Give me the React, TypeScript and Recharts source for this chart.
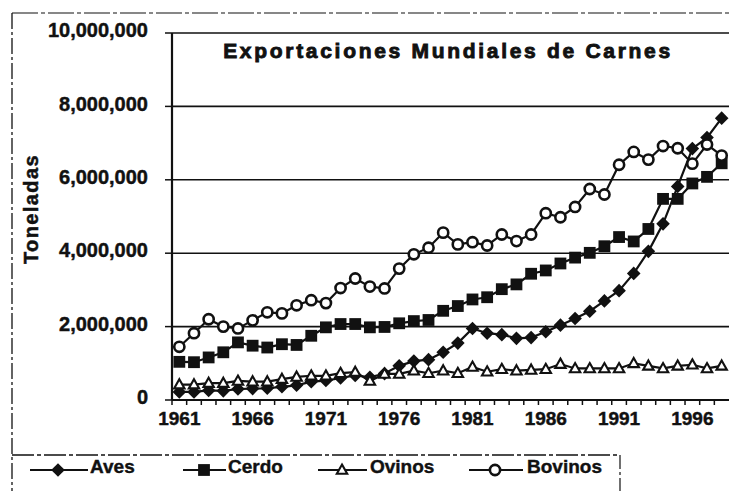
import React from 'react';
import { LineChart, Line, XAxis, YAxis, CartesianGrid, Legend } from 'recharts';

const FONT = '"Liberation Sans", Arial, Helvetica, sans-serif';
const INK = '#111';

const years = [
  1961, 1962, 1963, 1964, 1965, 1966, 1967, 1968, 1969, 1970,
  1971, 1972, 1973, 1974, 1975, 1976, 1977, 1978, 1979, 1980,
  1981, 1982, 1983, 1984, 1985, 1986, 1987, 1988, 1989, 1990,
  1991, 1992, 1993, 1994, 1995, 1996, 1997, 1998,
];

const aves = [
  220000, 220000, 260000, 250000, 300000, 310000, 320000, 360000, 400000, 500000,
  530000, 600000, 670000, 620000, 720000, 930000, 1060000, 1100000, 1300000, 1550000,
  1950000, 1820000, 1780000, 1680000, 1700000, 1860000, 2040000, 2220000, 2420000, 2700000,
  2980000, 3450000, 4050000, 4800000, 5820000, 6850000, 7150000, 7680000,
];

const cerdo = [
  1040000, 1030000, 1160000, 1300000, 1570000, 1480000, 1430000, 1520000, 1500000, 1750000,
  1980000, 2070000, 2070000, 1980000, 1990000, 2090000, 2150000, 2180000, 2430000, 2560000,
  2740000, 2800000, 3020000, 3150000, 3440000, 3530000, 3720000, 3880000, 4010000, 4190000,
  4440000, 4320000, 4660000, 5480000, 5480000, 5900000, 6080000, 6450000,
];

const ovinos = [
  420000, 420000, 460000, 460000, 520000, 500000, 500000, 570000, 630000, 660000,
  660000, 730000, 760000, 520000, 710000, 710000, 800000, 730000, 800000, 730000,
  900000, 770000, 840000, 800000, 820000, 840000, 980000, 860000, 860000, 860000,
  860000, 1000000, 930000, 860000, 930000, 960000, 860000, 930000,
];

const bovinos = [
  1450000, 1820000, 2200000, 2000000, 1950000, 2170000, 2390000, 2360000, 2580000, 2720000,
  2640000, 3050000, 3310000, 3090000, 3040000, 3580000, 3970000, 4150000, 4560000, 4240000,
  4300000, 4210000, 4510000, 4330000, 4510000, 5090000, 4980000, 5260000, 5750000, 5600000,
  6410000, 6760000, 6550000, 6920000, 6860000, 6440000, 6960000, 6660000,
];

const seriesNames = ['Aves', 'Cerdo', 'Ovinos', 'Bovinos'];
const yTicks = [0, 2000000, 4000000, 6000000, 8000000, 10000000];
const labeledYears = [1961, 1966, 1971, 1976, 1981, 1986, 1991, 1996];
const title = 'Exportaciones Mundiales de Carnes';
const yTitle = 'Toneladas';

const data = years.map((y, i) => ({
  year: y,
  Aves: aves[i],
  Cerdo: cerdo[i],
  Ovinos: ovinos[i],
  Bovinos: bovinos[i],
}));

const W = 729;
const H = 491;
const PLOT_LEFT = 172;
const PLOT_TOP = 33;
const PLOT_BOTTOM = 400;
const BAND = (W - PLOT_LEFT) / years.length;

function marker(kind: string, cx: number, cy: number, key?: any) {
  if (cx == null || cy == null || isNaN(cx) || isNaN(cy)) return <g key={key} />;
  if (kind === 'Aves') {
    const s = 6.8;
    return <path key={key} d={`M${cx},${cy - s}L${cx + s},${cy}L${cx},${cy + s}L${cx - s},${cy}Z`} fill={INK} />;
  }
  if (kind === 'Cerdo') {
    const s = 5.9;
    return <rect key={key} x={cx - s} y={cy - s} width={2 * s} height={2 * s} fill={INK} />;
  }
  if (kind === 'Ovinos') {
    return (
      <path key={key} d={`M${cx},${cy - 5.4}L${cx + 5.2},${cy + 3.8}L${cx - 5.2},${cy + 3.8}Z`}
        fill="#fff" stroke={INK} strokeWidth={2.1} strokeLinejoin="miter" />
    );
  }
  return <circle key={key} cx={cx} cy={cy} r={5.1} fill="#fff" stroke={INK} strokeWidth={2.6} />;
}

const makeDot = (kind: string) => (props: any) => marker(kind, props.cx, props.cy, `${kind}-${props.index}`);

const XTick = (props: any) => {
  const { x, y, payload } = props;
  const yr = payload.value;
  return (
    <g>
      <line x1={x - BAND / 2} x2={x - BAND / 2} y1={y} y2={y + 5} stroke={INK} strokeWidth={1.5} />
      {labeledYears.includes(yr) && (
        <text x={x} y={y + 25} textAnchor="middle" fontFamily={FONT} fontWeight="bold" fontSize={19}
          fill={INK} stroke={INK} strokeWidth={0.45}>
          {yr}
        </text>
      )}
    </g>
  );
};

const fmt = (v: number) => v.toLocaleString('en-US');

const YTick = (props: any) => {
  const { x, y, payload } = props;
  return (
    <text x={x} y={y - 3} dy="0.36em" textAnchor="end" fontFamily={FONT} fontWeight="bold" fontSize={20}
      fill={INK} stroke={INK} strokeWidth={0.45}>
      {fmt(payload.value)}
    </text>
  );
};

const legendItems = [
  { name: 'Aves', x1: 30, x2: 88, mx: 58, tx: 90 },
  { name: 'Cerdo', x1: 183, x2: 226, mx: 204, tx: 228 },
  { name: 'Ovinos', x1: 318, x2: 367, mx: 342, tx: 370 },
  { name: 'Bovinos', x1: 469, x2: 523, mx: 495, tx: 527 },
];

const renderLegend = () => (
  <svg width={W} height={51} style={{ display: 'block' }}>
    <line x1={12} x2={620} y1={15} y2={15} stroke={INK} strokeWidth={1.3} strokeDasharray="22 3 4 3" />
    <line x1={620} x2={620} y1={15} y2={51} stroke={INK} strokeWidth={1.2} strokeDasharray="14 3 3 3" />
    {legendItems.map((it) => (
      <g key={it.name}>
        <line x1={it.x1} x2={it.x2} y1={30} y2={30} stroke={INK} strokeWidth={2.2} />
        {marker(it.name, it.mx, 30)}
        <text x={it.tx} y={33} fontFamily={FONT} fontWeight="bold" fontSize={19} fill={INK}
          stroke={INK} strokeWidth={0.4}>
          {it.name}
        </text>
      </g>
    ))}
  </svg>
);

export default function App() {
  return (
    <div style={{ position: 'absolute', left: 0, top: 0, width: W, height: H, background: '#fff', overflow: 'hidden' }}>
      <LineChart width={W} height={H} data={data} margin={{ top: PLOT_TOP, right: 0, left: 0, bottom: H - PLOT_BOTTOM - 30 }}>
        <CartesianGrid vertical={false} stroke={INK} strokeWidth={1.6} />
        <XAxis
          dataKey="year"
          type="number"
          domain={[1960.5, 1998.5]}
          ticks={years}
          interval={0}
          allowDataOverflow
          height={30}
          tickSize={0}
          tickMargin={0}
          tickLine={false}
          axisLine={{ stroke: INK, strokeWidth: 2 }}
          tick={<XTick />}
        />
        <YAxis
          width={PLOT_LEFT}
          domain={[0, 10000000]}
          ticks={yTicks}
          interval={0}
          allowDataOverflow
          tickSize={7}
          tickMargin={17}
          tickLine={{ stroke: INK, strokeWidth: 1.5 }}
          axisLine={{ stroke: INK, strokeWidth: 2.2 }}
          tick={<YTick />}
        />
        <Legend
          verticalAlign="middle"
          align="center"
          layout="horizontal"
          wrapperStyle={{ position: 'absolute', left: 0, top: 440, width: W, height: 51 }}
          content={renderLegend}
        />
        {seriesNames.map((s) => (
          <Line
            key={s}
            type="linear"
            dataKey={s}
            stroke={INK}
            strokeWidth={2.2}
            dot={makeDot(s)}
            activeDot={false}
            isAnimationActive={false}
          />
        ))}
      </LineChart>
      <svg width={W} height={H} style={{ position: 'absolute', left: 0, top: 0, pointerEvents: 'none' }}>
        <line x1={12} x2={W} y1={13} y2={13} stroke={INK} strokeWidth={1.2} strokeDasharray="26 3 4 3" />
        <line x1={12} x2={12} y1={13} y2={H} stroke={INK} strokeWidth={1.3} strokeDasharray="16 3 3 3" />
        <text x={448} y={58} textAnchor="middle" fontFamily={FONT} fontWeight="bold" fontSize={21}
          letterSpacing={2.7} fill={INK} stroke={INK} strokeWidth={0.9}>
          {title}
        </text>
        <text transform="translate(31,209) rotate(-90)" textAnchor="middle" dy="0.36em" fontFamily={FONT}
          fontWeight="bold" fontSize={20} letterSpacing={1.4} fill={INK} stroke={INK} strokeWidth={0.5}>
          {yTitle}
        </text>
      </svg>
    </div>
  );
}
